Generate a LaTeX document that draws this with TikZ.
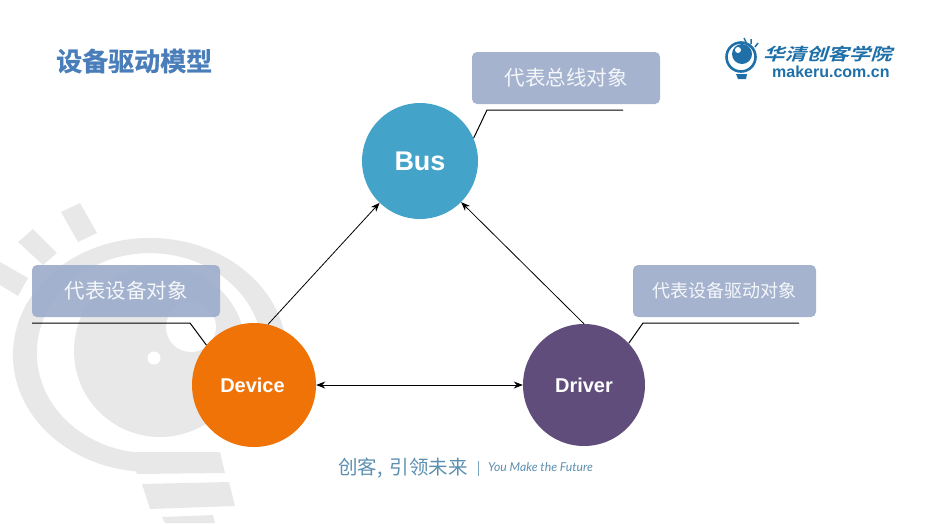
\documentclass[tikz,border=0pt]{standalone}
\usepackage{fontspec}
\setmainfont{Liberation Sans}
\newfontfamily\cjk{Noto Sans CJK SC}
\newfontfamily\cjkb{Noto Sans CJK SC Bold}[FakeBold=1]
\newfontfamily\cjklogo{Noto Sans CJK SC Bold}[FakeSlant=0.25]
\newfontfamily\slogan{Lato Italic}
\usepackage{xcolor}
\usepackage{graphicx}
\usetikzlibrary{arrows.meta,positioning}
\definecolor{busblue}{HTML}{43A3C9}
\definecolor{devorange}{HTML}{EF7306}
\definecolor{drvpurple}{HTML}{614D7B}
\definecolor{boxblue}{HTML}{9DADCB}
\definecolor{bulbgray}{HTML}{E8E8E8}
\definecolor{titleblue}{HTML}{4A7EBB}
\definecolor{logoblue}{HTML}{1F6FA8}
\definecolor{footblue}{HTML}{5B8FB0}
\tikzset{
  model/.style={circle,inner sep=0pt,text=white,font=\bfseries},
  note/.style={rounded corners=5pt,fill=boxblue,fill opacity=.92,text opacity=1,text=white!90!boxblue,inner sep=0pt,minimum height=52pt},
  leader/.style={draw=black,line width=1pt},
  link/.style={draw=black,line width=.8pt,-{Stealth[length=9pt,width=7pt]}},
}
\begin{document}
\begin{tikzpicture}[x=1pt,y=-1pt]
\useasboundingbox (0,0) rectangle (927,523);
% bulb in the background
\fill[bulbgray] (160,351) circle[radius=86];
\fill[white] (191,327) circle[radius=25];
\fill[white] (154,358) circle[radius=6.5];
\fill[bulbgray] (138,471.5) arc[start angle=95,end angle=375,x radius=137,y radius=117]
  -- (259,379) arc[start angle=375,end angle=95,x radius=113,y radius=100] -- cycle;
\fill[bulbgray] (127,452)--(220,452)--(225,473)--(137,474)--cycle;
\fill[bulbgray] (142,484)--(229,482)--(235,506)--(150,509)--cycle;
\fill[bulbgray] (162,517)--(213,515)--(215,523)--(165,523)--cycle;
\fill[bulbgray] (61,212)--(80,203)--(97,233)--(78,242)--cycle;
\fill[bulbgray] (18,242)--(33,229)--(57,253)--(43,265)--cycle;
\fill[bulbgray] (0,262)--(28,278)--(18,296)--(0,285)--cycle;
% title and logo
\node[anchor=west,text=titleblue,font=\cjkb\fontsize{26}{26}\selectfont,inner sep=0pt] (title) at (56,61) {设备驱动模型};
\draw[logoblue,line width=2.6pt] (741,57) circle[radius=14.5];
\fill[logoblue] (742,54) circle[radius=10];
\fill[white] (738,50) circle[radius=3];
\fill[logoblue] (736,74)--(747,74)--(746,79)--(738,79)--cycle;
\draw[logoblue,line width=1.5pt] (746,42)--(744,38) (751,44)--(751,39) (755,47)--(758,43);
\node[anchor=west,text=logoblue,font=\cjklogo\fontsize{21}{21}\selectfont,inner sep=0pt] (logotext) at (763,54) {\scalebox{1.02}[.8]{华清创客学院}};
\node[anchor=west,text=logoblue,font=\bfseries\fontsize{16}{16}\selectfont,inner sep=0pt] (logourl) at (772,72) {makeru.com.cn};
% the three models
\node[model,fill=busblue,minimum size=116pt,font=\bfseries\fontsize{27}{27}\selectfont] (bus) at (420,161) {Bus};
\node[model,fill=devorange,minimum size=124pt,font=\bfseries\fontsize{20}{20}\selectfont] (device) at (254,385) {\hspace*{-3pt}Device};
\node[model,fill=drvpurple,minimum size=122pt,font=\bfseries\fontsize{20}{20}\selectfont] (driver) at (584,385) {Driver};
\draw[link] (device.77)--(bus.226);
\draw[link] (driver.90)--(bus.315);
\draw[link,{Stealth[length=9pt,width=7pt]}-{Stealth[length=9pt,width=7pt]}] (device.east)--(driver.west);
% notes
\node[note,minimum width=188pt,font=\cjk\fontsize{20.5}{20.5}\selectfont] (busnote) at (566,78) {代表总线对象};
\node[note,minimum width=188pt,font=\cjk\fontsize{20.5}{20.5}\selectfont] (devnote) at (126,291) {代表设备对象};
\node[note,minimum width=183pt,font=\cjk\fontsize{18}{18}\selectfont] (drvnote) at (724.5,291) {代表设备驱动对象};
\coordinate (busend) at (623,110); \coordinate (busknee) at (487,110);
\coordinate (devend) at (32,323); \coordinate (devknee) at (190,323);
\coordinate (drvend) at (799,323); \coordinate (drvknee) at (643,323);
\draw[leader] (bus.23)--(busknee)--(busend);
\draw[leader] (device.140)--(devknee)--(devend);
\draw[leader] (driver.43)--(drvknee)--(drvend);
% footer
\node[anchor=west,text=footblue,font=\cjk\fontsize{19.5}{19.5}\selectfont,inner sep=0pt] (motto) at (338,468) {创客,\hspace{7pt}引领未来};
\fill[footblue!80] (477.5,461) rectangle (478.5,476);
\node[anchor=west,text=footblue,font=\slogan\fontsize{12.2}{12.2}\selectfont,inner sep=0pt] (sloganen) at (488,467) {You Make the Future};
\end{tikzpicture}
\end{document}
